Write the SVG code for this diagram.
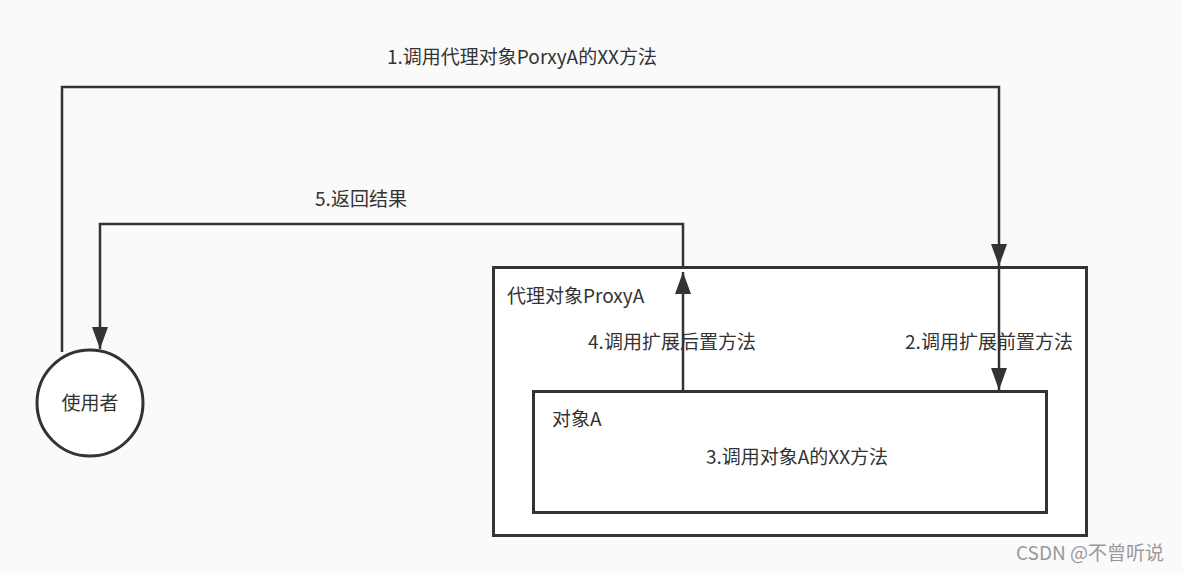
<svg xmlns="http://www.w3.org/2000/svg" width="1183" height="573" viewBox="0 0 1183 573">
<defs>
<style>
.ln{fill:none;stroke:#333;stroke-width:2.5}
.box{fill:#fff;stroke:#333;stroke-width:3}
.t{font-family:"Noto Sans CJK SC","Noto Sans",sans-serif;font-size:19px;fill:#333}
.wm{font-family:"Noto Sans CJK SC","Noto Sans",sans-serif;font-size:19px;fill:#999}
</style>
<marker id="ah" viewBox="0 0 22 16" refX="22" refY="8" markerWidth="22" markerHeight="16" markerUnits="userSpaceOnUse" orient="auto">
<path d="M0,0 L22,8 L0,16 Z" fill="#333"/>
</marker>
</defs>
<rect width="1183" height="573" fill="#fafafa"/>
<g id="proxy">
<rect class="box" x="493.5" y="267.5" width="593" height="268"/>
<text class="t" x="507" y="303">代理对象ProxyA</text>
</g>
<g id="target">
<rect class="box" x="533.5" y="391.5" width="513" height="121"/>
<text class="t" x="552" y="426">对象A</text>
<text class="t" x="797" y="464" text-anchor="middle">3.调用对象A的XX方法</text>
</g>
<g id="user">
<circle cx="90" cy="403" r="53" fill="#fff" stroke="#333" stroke-width="3"/>
<text class="t" x="90" y="410" text-anchor="middle">使用者</text>
</g>
<g id="connectors">
<polyline class="ln" points="62,352 62,87 999,87 999,266" marker-end="url(#ah)"/>
<line class="ln" x1="999" y1="266" x2="999" y2="390" marker-end="url(#ah)"/>
<line class="ln" x1="683" y1="391" x2="683" y2="272" marker-end="url(#ah)"/>
<polyline class="ln" points="683,268 683,224 100,224 100,349" marker-end="url(#ah)"/>
<text class="t" x="522" y="64" text-anchor="middle">1.调用代理对象PorxyA的XX方法</text>
<text class="t" x="361" y="206" text-anchor="middle">5.返回结果</text>
<text class="t" x="672" y="349" text-anchor="middle">4.调用扩展后置方法</text>
<text class="t" x="989" y="349" text-anchor="middle">2.调用扩展前置方法</text>
</g>
<text class="wm" x="1016" y="560">CSDN @不曾听说</text>
</svg>
